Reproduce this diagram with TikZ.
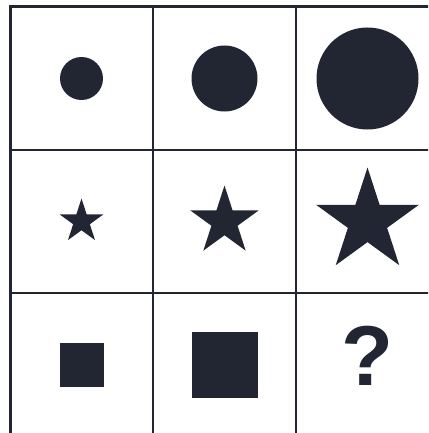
\documentclass[tikz,border=0pt]{standalone}
\usepackage{fontspec}
\setmainfont{Liberation Sans}
\usetikzlibrary{shapes.geometric, math}
\definecolor{myink}{RGB}{34, 38, 51}

\begin{document}
\begin{tikzpicture}[x=1pt, y=-1pt,
  figure/.style={fill=myink, inner sep=0pt, outer sep=0pt},
  starfig/.style={figure, star, star points=5, star point ratio=2.618},
  boxfig/.style={figure, rectangle}]
\tikzmath{
\W=143;
\X=10;
\Y=7;
}
\useasboundingbox (0,0) rectangle (428,433);

%grid
\begin{scope}
\clip (0,0) rectangle (428,433);
\foreach \i in {1,2}{
  \draw[myink, line width=2] (\X+\i*\W,\Y) -- (\X+\i*\W,\Y+3*\W);
  \draw[myink, line width=2] (\X,\Y+\i*\W) -- (\X+3*\W,\Y+\i*\W);
}
\draw[myink, line width=3] (\X,\Y) rectangle (\X+3*\W,\Y+3*\W);
\end{scope}

%circles
\node[figure, circle, minimum size=43] (c1) at (\X+0.5*\W,\Y+0.5*\W) {};
\node[figure, circle, minimum size=66] (c2) at (\X+1.5*\W,\Y+0.5*\W) {};
\node[figure, circle, minimum size=102] (c3) at (\X+2.5*\W,\Y+0.5*\W) {};

%stars
\node[starfig, minimum size=46] (s1) at (\X+0.5*\W,\Y+1.5*\W) {};
\node[starfig, minimum size=72] (s2) at (\X+1.5*\W,\Y+1.5*\W) {};
\node[starfig, minimum size=108] (s3) at (\X+2.5*\W,\Y+1.5*\W) {};

%squares
\node[boxfig, minimum size=44] (q1) at (\X+0.5*\W,\Y+2.5*\W) {};
\node[boxfig, minimum size=66] (q2) at (\X+1.5*\W,\Y+2.5*\W) {};
\node[text=myink, font=\bfseries\fontsize{85}{85}\selectfont, inner sep=0pt] (q3) at (367.5,356) {?};

\end{tikzpicture}
\end{document}
